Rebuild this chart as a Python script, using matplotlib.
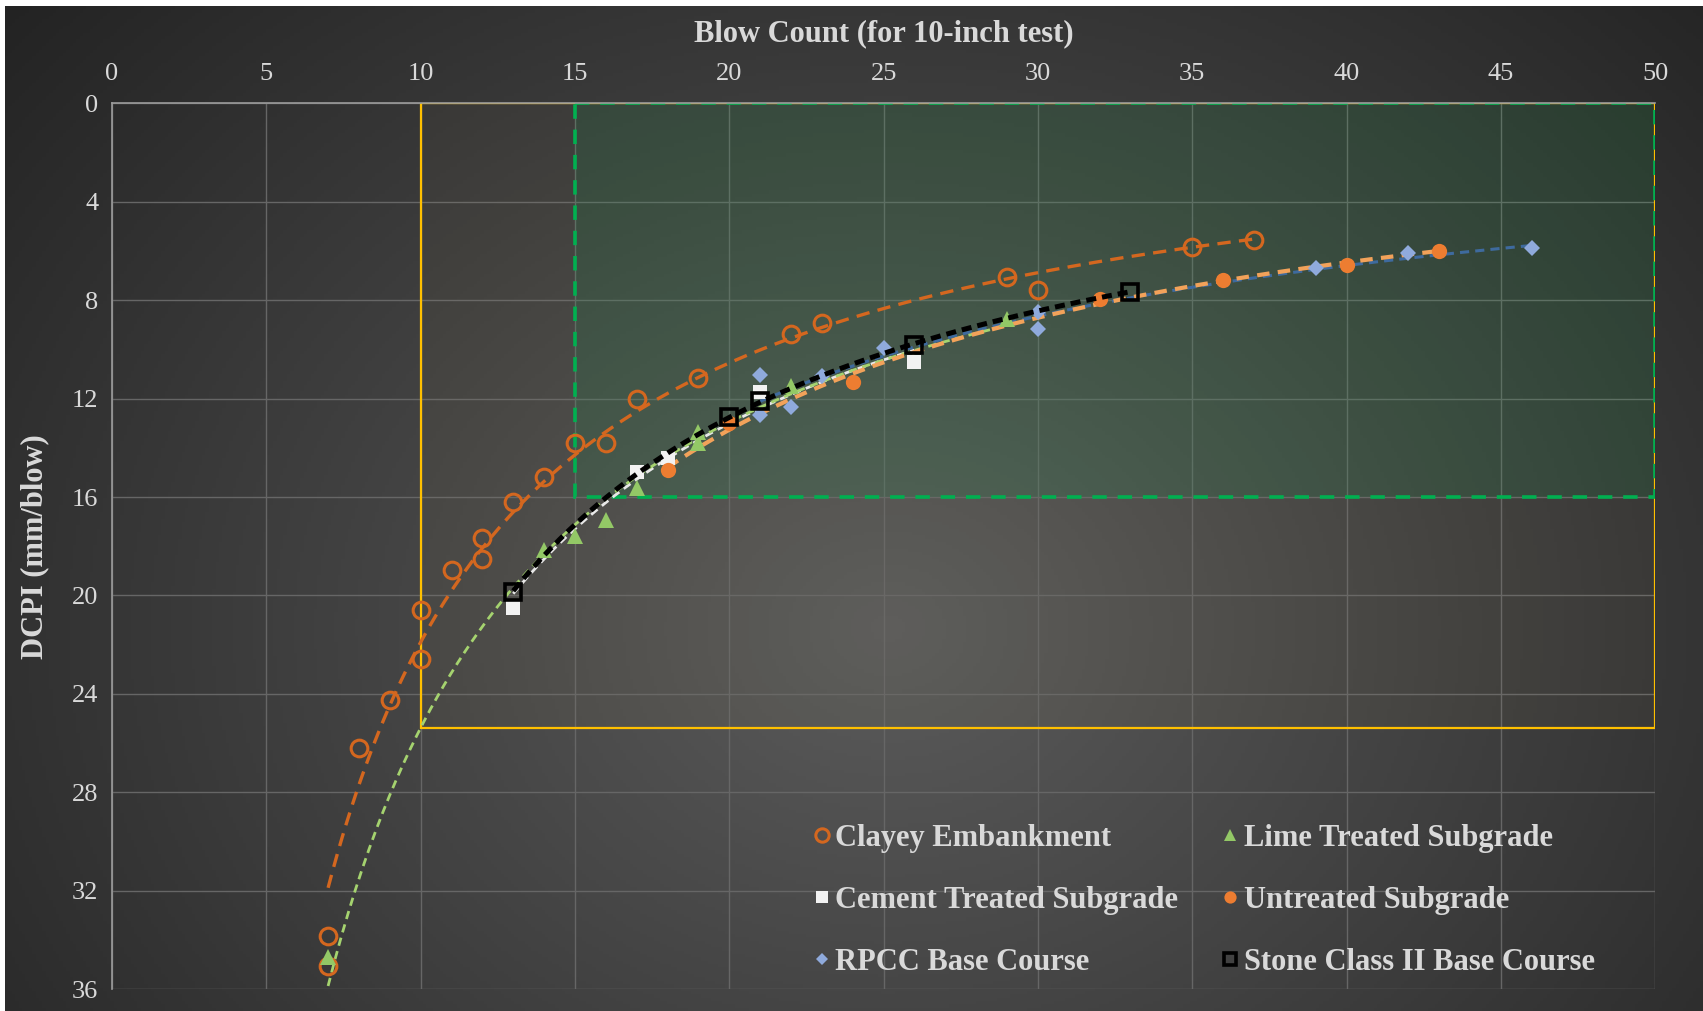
import numpy as np
import matplotlib
matplotlib.use('Agg')
import matplotlib.pyplot as plt
from matplotlib.patches import Rectangle

plt.rcParams['font.family'] = ['Liberation Serif', 'DejaVu Serif']

# ---------------- data ----------------
clay_x = [7, 7, 8, 9, 10, 10, 11, 12, 12, 13, 14, 15, 16, 17, 19, 22, 23, 29, 30, 35, 37]
clay_y = [33.85, 35.05, 26.2, 24.25, 20.6, 22.6, 18.96, 17.67, 18.5, 16.2, 15.17, 13.81,
          13.81, 12.03, 11.17, 9.38, 8.94, 7.05, 7.59, 5.86, 5.56]

lime_x = [7, 14, 15, 16, 17, 19, 19, 22, 29]
lime_y = [34.67, 18.15, 17.6, 16.95, 15.62, 13.35, 13.8, 11.48, 8.75]

cement_x = [13, 17, 18, 21, 26]
cement_y = [20.52, 15.0, 14.4, 11.75, 10.5]

untreated_x = [18, 20, 24, 32, 36, 40, 43]
untreated_y = [14.9, 13.0, 11.31, 7.95, 7.18, 6.57, 6.0]

rpcc_x = [21, 21, 22, 23, 25, 30, 30, 39, 42, 46]
rpcc_y = [11.04, 12.66, 12.35, 11.1, 9.96, 9.17, 8.47, 6.71, 6.1, 5.9]

stone_x = [13, 20, 21, 26, 33]
stone_y = [19.87, 12.73, 12.08, 9.82, 7.66]

# zones (blow count / DCPI limits)
zone_a = (10, 50, 0, 25.4)
zone_b = (15, 50, 0, 16)

txt = '#D9D9D9'

fig = plt.figure(figsize=(17.03, 10.11), dpi=100, facecolor='white')

# background gradient panel
bg = fig.add_axes([5 / 1703, 0, 1 - 5 / 1703, 1 - 6 / 1011])
gx, gy = np.meshgrid(np.linspace(0, 1, 500), np.linspace(0, 1, 300))
r = np.sqrt(((gx - 0.52) / 0.62) ** 2 + ((gy - 0.62) / 0.85) ** 2)
shade = 0.36 - 0.2 * np.clip(r, 0, 1.4)
bg.imshow(np.dstack([shade, shade, shade]), aspect='auto', extent=(0, 1, 1, 0))
bg.set_axis_off()

ax = fig.add_axes([0.0658, 0.0214, 0.9061, 0.8766])
ax.set_facecolor('none')

# zones
ax.add_patch(Rectangle((zone_a[0], zone_a[2]), zone_a[1] - zone_a[0], zone_a[3] - zone_a[2],
                       facecolor='#FFD966', alpha=0.025, edgecolor='none', zorder=1))
ax.add_patch(Rectangle((zone_a[0], zone_a[2]), zone_a[1] - zone_a[0], zone_a[3] - zone_a[2],
                       facecolor='none', edgecolor='#FFC000', lw=1.6, zorder=2))
ax.add_patch(Rectangle((zone_b[0], zone_b[2]), zone_b[1] - zone_b[0], zone_b[3] - zone_b[2],
                       facecolor='#00B050', alpha=0.11, edgecolor='none', zorder=1))
ax.add_patch(Rectangle((zone_b[0], zone_b[2]), zone_b[1] - zone_b[0], zone_b[3] - zone_b[2],
                       facecolor='none', edgecolor='#00B050', lw=2.6, linestyle=(0, (4, 3)), zorder=2))


def power_trend(xs, ys):
    b, a = np.polyfit(np.log(xs), np.log(ys), 1)
    xx = np.linspace(min(xs), max(xs), 200)
    return xx, np.exp(a) * xx ** b


series = [
    # x, y, label, marker kwargs, line color, line width, dashes, line zorder
    (clay_x, clay_y, 'Clayey Embankment',
     dict(marker='o', ms=12, mfc='none', mec='#D4671F', mew=2.2), '#D4671F', 2.4, (4, 2.5), 3),
    (cement_x, cement_y, 'Cement Treated Subgrade',
     dict(marker='s', ms=10, mfc='#F2F2F2', mec='#F2F2F2', mew=0), '#E8E8E8', 2.0, (3, 2), 3),
    (rpcc_x, rpcc_y, 'RPCC Base Course',
     dict(marker='D', ms=8, mfc='#8FAADC', mec='#8FAADC', mew=0), '#3E6A9E', 2.2, (3, 2), 3),
    (lime_x, lime_y, 'Lime Treated Subgrade',
     dict(marker='^', ms=11, mfc='#93C866', mec='#93C866', mew=0), '#A5D36F', 2.0, (3, 2), 3),
    (untreated_x, untreated_y, 'Untreated Subgrade',
     dict(marker='o', ms=11, mfc='#ED7D31', mec='#ED7D31', mew=0), '#F2A25A', 3.0, (3, 2), 3.2),
    (stone_x, stone_y, 'Stone Class II Base Course',
     dict(marker='s', ms=11, mfc='none', mec='black', mew=2.6), 'black', 3.6, (2, 1.2), 4.5),
]

handles = []
for xs, ys, label, mk, lc, lw, dash, lz in series:
    tx, ty = power_trend(xs, ys)
    ax.plot(tx, ty, color=lc, lw=lw, dashes=dash, zorder=lz)
    h, = ax.plot(xs, ys, linestyle='none', label=label, zorder=4, **mk)
    handles.append(h)

ax.set_xlim(0, 50)
ax.set_ylim(36, 0)
ax.set_xticks(np.arange(0, 51, 5))
ax.set_yticks(np.arange(0, 37, 4))
ax.xaxis.tick_top()
ax.xaxis.set_label_position('top')
ax.tick_params(axis='both', length=0, labelcolor=txt, labelsize=19)
ax.tick_params(axis='x', pad=13)
ax.tick_params(axis='y', pad=10)
ax.grid(True, color='#666666', lw=1, zorder=0)
ax.set_axisbelow(True)
for side in ['bottom', 'right']:
    ax.spines[side].set_visible(False)
for side in ['left', 'top']:
    ax.spines[side].set_color('#9C9C9C')
    ax.spines[side].set_linewidth(1.2)

ax.set_xlabel('Blow Count (for 10-inch test)', color=txt, fontsize=22, fontweight='bold', labelpad=16)
ax.set_ylabel('DCPI (mm/blow)', color=txt, fontsize=22, fontweight='bold', labelpad=16)

leg = ax.legend(handles=handles, ncol=2, loc='lower left', bbox_to_anchor=(0.444, -0.003),
                frameon=False, prop={'size': 22, 'weight': 'bold'}, labelcolor=txt,
                handlelength=0.6, handletextpad=0.15, labelspacing=1.08, columnspacing=1.4,
                borderpad=0, markerscale=0.8)

fig.savefig('out.png', dpi=100, facecolor=fig.get_facecolor())
